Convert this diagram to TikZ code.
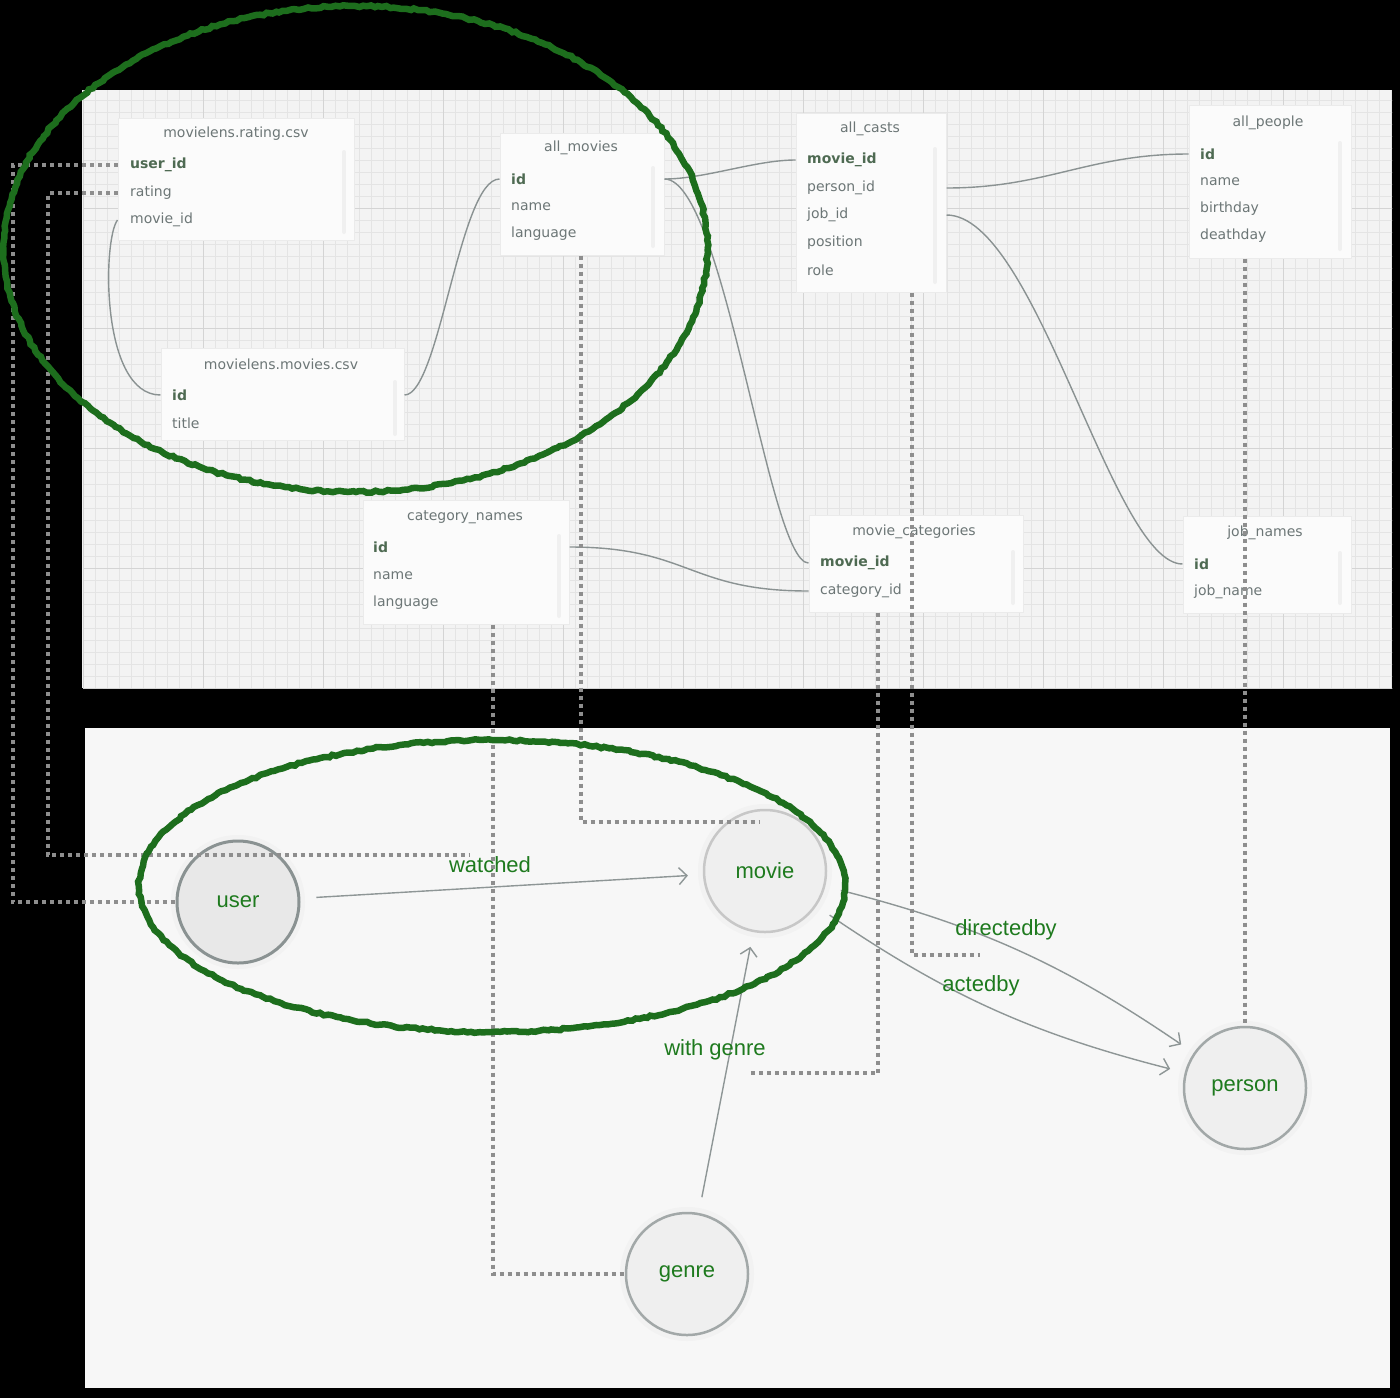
\documentclass[tikz,border=0pt]{standalone}
\usepackage{fontspec}
\setmainfont{DejaVu Sans}
\newfontfamily\nodefont{Liberation Sans}
\usetikzlibrary{arrows.meta, positioning, calc, decorations.pathmorphing}

\definecolor{panelgrid}{HTML}{F3F3F3}
\definecolor{minorline}{HTML}{E4E4E4}
\definecolor{majorline}{HTML}{D4D4D4}
\definecolor{panelgraph}{HTML}{F7F7F7}
\definecolor{cardfill}{HTML}{FBFBFB}
\definecolor{cardtext}{HTML}{6C7676}
\definecolor{keytext}{HTML}{4E6A52}
\definecolor{linkgray}{HTML}{8A9292}
\definecolor{dotgray}{HTML}{8E8E8E}
\definecolor{circlefill}{HTML}{EFEFEF}
\definecolor{ringgray}{HTML}{A2A8A8}
\definecolor{relgray}{HTML}{8E9696}
\definecolor{nodegreen}{HTML}{1E7A1E}
\definecolor{markgreen}{HTML}{1D6E1D}

\newcommand{\tabfont}{\fontsize{14}{16}\selectfont}
\newcommand{\graphfont}{\nodefont\fontsize{22}{25}\selectfont}

\begin{document}
\begin{tikzpicture}[
        x=1pt, y=-1pt,
        card/.style={draw=black!8, line width=1pt, fill=cardfill, inner sep=0pt},
        tabhead/.style={inner sep=0pt, text=cardtext, font=\tabfont},
        field/.style={anchor=west, inner sep=0pt, text=cardtext, font=\tabfont},
        keyfield/.style={field, text=keytext, font=\tabfont\bfseries},
        scrollbar/.style={line width=4pt, draw=black!6, line cap=round},
        link/.style={draw=linkgray, line width=1.4pt},
        mapline/.style={draw=dotgray, line width=4pt, dash pattern=on 4pt off 4pt},
        entity/.style={circle, minimum size=122pt, inner sep=0pt, fill=circlefill, draw=ringgray, line width=2.5pt, text=nodegreen, font=\graphfont,
            preaction={draw=black!5, line width=12pt}},
        rel/.style={draw=relgray, line width=1.4pt, -{Straight Barb[length=8pt, width=17pt]}, shorten <=16pt, shorten >=15pt},
        rellabel/.style={inner sep=0pt, text=nodegreen, font=\graphfont},
        markring/.style={draw=markgreen, line width=6.5pt, decorate, decoration={random steps, segment length=4pt, amplitude=1pt}}
    ]
        \useasboundingbox (0,0) rectangle (1400,1398);
        \fill[black] (0,0) rectangle (1400,1398);

        % --- schema panel with grid ---
        \fill[panelgrid] (82,90) rectangle (1392,688);
        \begin{scope}[shift={(83,88)}]
            \clip (-1,2) rectangle (1309,600);
            \draw[minorline, line width=0.6pt, step=12pt] (0,0) grid (1320,612);
            \draw[majorline, line width=0.9pt, step=120pt] (0,0) grid (1320,612);
        \end{scope}

        % --- graph panel ---
        \fill[panelgraph] (85,728) rectangle (1390,1388);

        % --- tables ---
        \node[card, minimum width=236pt, minimum height=122pt] (rating) at (236,179) {};
        \node[tabhead] (rating_t) at (236,134) {movielens.rating.csv};
        \node[keyfield] (f_rating_user) at (130,165) {user\_id};
        \node[field] (f_rating_rate) at (130,193) {rating};
        \node[field] (f_rating_movie) at (130,220) {movie\_id};
        \draw[scrollbar] (344,152) -- (344,232);

        \node[card, minimum width=243pt, minimum height=92pt] (movies_csv) at (282.5,394) {};
        \node[tabhead] (movies_csv_t) at (281,364) {movielens.movies.csv};
        \node[keyfield] (f_csv_id) at (172,395) {id};
        \node[field] (f_csv_title) at (172,423) {title};
        \draw[scrollbar] (395,382) -- (395,434);

        \node[card, minimum width=164pt, minimum height=122pt] (all_movies) at (582,194) {};
        \node[tabhead] (all_movies_t) at (581,148) {all\_movies};
        \node[keyfield] (f_am_id) at (511,179) {id};
        \node[field] (f_am_name) at (511,207) {name};
        \node[field] (f_am_lang) at (511,234) {language};
        \draw[scrollbar] (653,168) -- (653,246);

        \node[card, minimum width=150pt, minimum height=179pt] (all_casts) at (871,202.5) {};
        \node[tabhead] (all_casts_t) at (870,129) {all\_casts};
        \node[keyfield] (f_ac_movie) at (807,160) {movie\_id};
        \node[field] (f_ac_person) at (807,188) {person\_id};
        \node[field] (f_ac_job) at (807,215) {job\_id};
        \node[field] (f_ac_pos) at (807,243) {position};
        \node[field] (f_ac_role) at (807,270) {role};
        \draw[scrollbar] (935,149) -- (935,282);

        \node[card, minimum width=162pt, minimum height=153pt] (all_people) at (1270,181.5) {};
        \node[tabhead] (all_people_t) at (1268,123) {all\_people};
        \node[keyfield] (f_ap_id) at (1200,154) {id};
        \node[field] (f_ap_name) at (1200,182) {name};
        \node[field] (f_ap_birth) at (1200,209) {birthday};
        \node[field] (f_ap_death) at (1200,236) {deathday};
        \draw[scrollbar] (1340,143) -- (1340,249);

        \node[card, minimum width=206pt, minimum height=124pt] (category_names) at (466,562) {};
        \node[tabhead] (category_names_t) at (465,517) {category\_names};
        \node[keyfield] (f_cn_id) at (373,547) {id};
        \node[field] (f_cn_name) at (373,576) {name};
        \node[field] (f_cn_lang) at (373,603) {language};
        \draw[scrollbar] (559,536) -- (559,616);

        \node[card, minimum width=214pt, minimum height=97pt] (movie_categories) at (916,563.5) {};
        \node[tabhead] (movie_categories_t) at (914,532) {movie\_categories};
        \node[keyfield] (f_mc_movie) at (820,563) {movie\_id};
        \node[field] (f_mc_cat) at (820,591) {category\_id};
        \draw[scrollbar] (1013,552) -- (1013,603);

        \node[card, minimum width=168pt, minimum height=97pt] (job_names) at (1267,564.5) {};
        \node[tabhead] (job_names_t) at (1265,533) {job\_names};
        \node[keyfield] (f_jn_id) at (1194,564) {id};
        \node[field] (f_jn_name) at (1194,592) {job\_name};
        \draw[scrollbar] (1340,553) -- (1340,603);

        % --- foreign key links ---
        \draw[link] (rating.west |- f_rating_movie) .. controls +(-15,20) and +(-60,0) .. (movies_csv.west |- f_csv_id);
        \draw[link] (movies_csv.east |- f_csv_id) .. controls +(35,0) and +(-40,0) .. (all_movies.west |- f_am_id);
        \draw[link] (all_movies.east |- f_am_id) .. controls +(40,0) and +(-40,0) .. (all_casts.west |- f_ac_movie);
        \draw[link] (all_movies.east |- f_am_id) .. controls +(60,0) and +(-40,0) .. (movie_categories.west |- f_mc_movie);
        \draw[link] (all_casts.east |- f_ac_person) .. controls +(100,0) and +(-100,0) .. (all_people.west |- f_ap_id);
        \draw[link] (all_casts.east |- f_ac_job) .. controls +(90,0) and +(-70,0) .. (job_names.west |- f_jn_id);
        \draw[link] (category_names.east |- f_cn_id) .. controls +(120,0) and +(-120,0) .. (movie_categories.west |- f_mc_cat);

        % --- graph entities ---
        \node[entity, fill=black!9, draw={rgb,255:red,138;green,146;blue,146}, line width=3pt] (user) at (238,902) {user};
        \node[entity, draw=black!22] (movie) at (765,871) {movie};
        \node[entity] (person) at (1245,1088) {person};
        \node[entity] (genre) at (687,1274) {genre};

        % --- relations ---
        \draw[rel] (user) -- (movie);
        \draw[rel] (genre) -- (movie);
        \draw[rel] (movie) to[bend left=10] (person);
        \draw[rel] (movie) to[bend right=10] (person);
        \node[rellabel] (l_watched) at (490,865) {watched};
        \node[rellabel] (l_genre) at (715,1050) {with genre};
        \node[rellabel] (l_directed) at (1006,930) {directedby};
        \node[rellabel] (l_acted) at (981,986) {actedby};

        % --- table to graph mapping ---
        \coordinate (w_bend) at (48,855);
        \coordinate (w_end) at (470,855);
        \coordinate (c_end) at (980,955);
        \coordinate (g_end) at (748,1073);
        \coordinate (m_end) at (760,822);
        \draw[mapline] (rating.west |- f_rating_user) -| ($(user.west)+(-163,0)$) -- (user.west);
        \draw[mapline] (rating.west |- f_rating_rate) -| (w_bend) -- (w_end);
        \draw[mapline] ($(all_movies.south)+(-1,0)$) |- (m_end);
        \draw[mapline] ($(all_casts.south)+(41,0)$) |- (c_end);
        \draw[mapline] ($(movie_categories.south)+(-38,0)$) |- (g_end);
        \draw[mapline] ($(category_names.south)+(27,0)$) |- (genre.west);
        \draw[mapline] (person.north |- all_people.south) -- (person.north);

        % --- highlight rings ---
        \draw[markring] (355.5,249) ellipse [x radius=352pt, y radius=243pt];
        \draw[markring] (492,886) ellipse [x radius=353pt, y radius=146pt];
    \end{tikzpicture}
\end{document}
